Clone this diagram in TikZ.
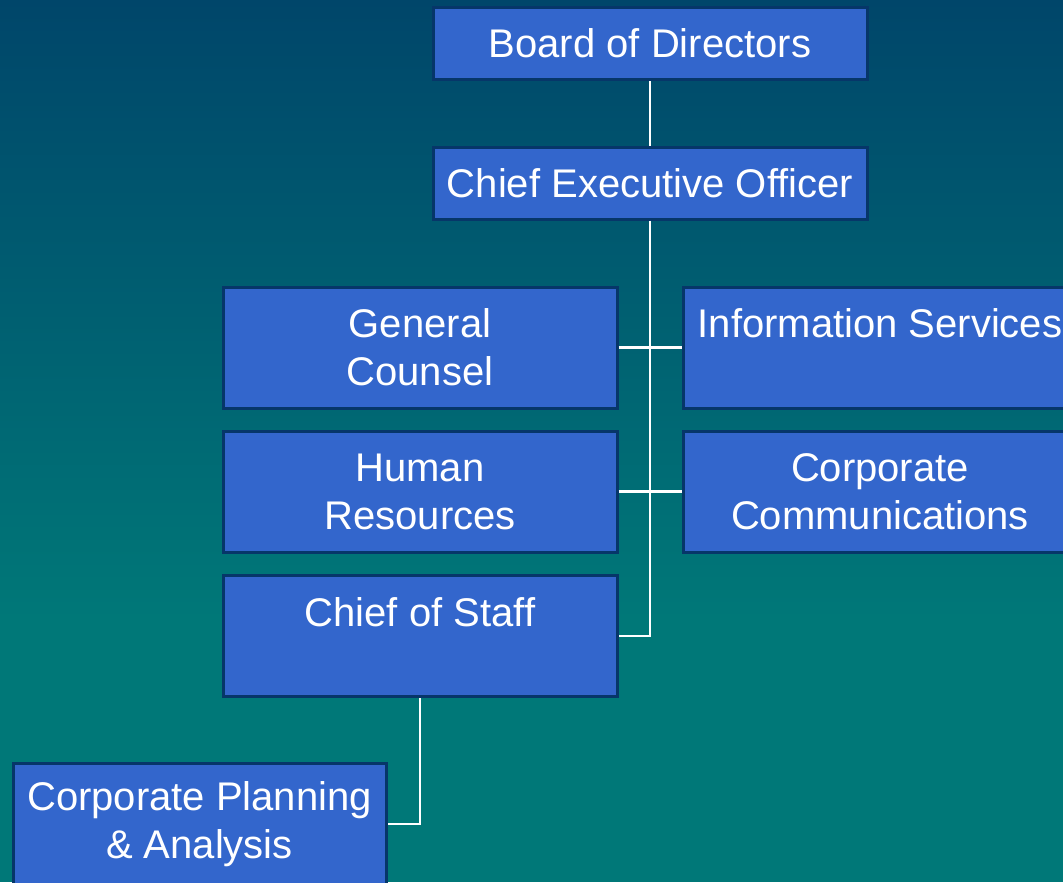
\documentclass[tikz,border=0pt]{standalone}
\usepackage{fontspec}
\setmainfont{Liberation Sans}
\definecolor{bgtop}{HTML}{00466A}
\definecolor{bgbottom}{HTML}{007878}
\definecolor{boxfill}{HTML}{3366CC}
\definecolor{boxline}{HTML}{063669}
\begin{document}
\begin{tikzpicture}[x=0.75pt,y=-0.75pt,
  unit/.style={draw=boxline,line width=2.25pt,fill=boxfill,text=white,
    align=center,inner sep=0pt,font=\fontsize{30}{36}\selectfont},
  topunit/.style={unit,minimum width=325.5pt,minimum height=54pt},
  deptunit/.style={unit,minimum width=295.5pt,minimum height=90.75pt},
  link/.style={draw=white,line width=1.9pt}]
  % background
  \useasboundingbox (0,0) rectangle (1063,882);
  \clip (0,0) rectangle (1063,882);
  \fill[bgbottom] (0,0) rectangle (1063,882);
  \shade[top color=bgtop,bottom color=bgbottom] (0,0) rectangle (1063,620);
  % board and CEO
  \node[topunit] (board) at (650,43.5) {Board of Directors};
  \node[topunit] (ceo) at (650,183) {Chief Executive Officer};
  % departments
  \node[deptunit] (counsel) at (420,347.5) {General\\Counsel};
  \node[deptunit] (infosvc) at (880,347.5) {Information Services\\~};
  \node[deptunit] (hr) at (420,491.5) {Human\\Resources};
  \node[deptunit] (comms) at (880,491.5) {Corporate\\Communications};
  \node[deptunit] (staff) at (420,636) {Chief of Staff\\~};
  \node[unit,minimum width=279.75pt,minimum height=91.5pt] (planning)
    at (199.5,824) {Corporate Planning\\\& Analysis};
  % trunk from the CEO down to the chief of staff
  \coordinate (trunk) at (650,636);
  \draw[link] (board.south) -- (ceo.north);
  \draw[link] (ceo.south) -- (trunk) -- (staff.east);
  % branches
  \draw[link] (counsel.east) -- (infosvc.west);
  \draw[link] (hr.east) -- (comms.west);
  \draw[link] (staff.south) |- (planning.east);
\end{tikzpicture}
\end{document}
